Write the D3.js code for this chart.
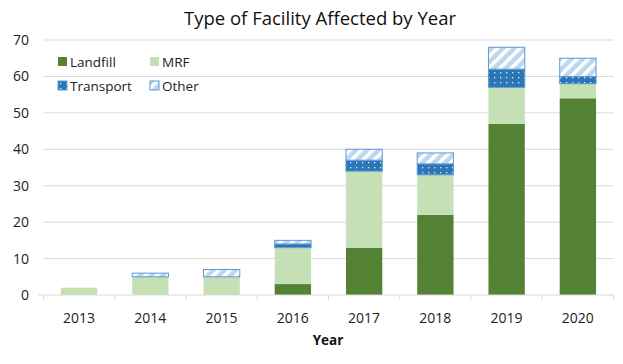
<!DOCTYPE html>
<html><head><meta charset="utf-8">
<script src="https://cdn.jsdelivr.net/npm/d3@7"></script>
<style>body{margin:0;background:#fff}svg{font-family:"Open Sans",Calibri,sans-serif}</style>
</head><body><svg id="c" width="623" height="364"></svg>
<script>
const years = ["2013","2014","2015","2016","2017","2018","2019","2020"];
const landfill = [0,0,0,3,13,22,47,54];
const mrf = [2,5,5,10,21,11,10,4];
const transport = [0,0,0,1,3,3,5,2];
const other = [0,1,2,1,3,3,6,5];
const seriesNames = ["Landfill","MRF","Transport","Other"];
const yTicks = [0,10,20,30,40,50,60,70];

const svg = d3.select("#c");
const defs = svg.append("defs");
const dots = defs.append("pattern").attr("id","dots").attr("patternUnits","userSpaceOnUse").attr("width",6).attr("height",5);
dots.append("rect").attr("width",6).attr("height",5).attr("fill","#2E75B6");
dots.append("rect").attr("x",2).attr("y",2).attr("width",1.3).attr("height",1.3).attr("fill","#DDEBF7");
const str = defs.append("pattern").attr("id","stripes").attr("patternUnits","userSpaceOnUse").attr("width",8).attr("height",8).attr("patternTransform","rotate(45)");
str.append("rect").attr("width",8).attr("height",8).attr("fill","#BDD7EE");
str.append("rect").attr("x",0).attr("width",3.5).attr("height",8).attr("fill","#fff");

const fills = {Landfill:"#548235",MRF:"#C5E0B4",Transport:"url(#dots)",Other:"url(#stripes)"};
const strokes = {Landfill:"none",MRF:"none",Transport:"#5B9BD5",Other:"#5B9BD5"};

const m = {l:43.5,r:613.5,t:40,b:295};
const x = d3.scaleBand().domain(years).range([m.l,m.r]).paddingInner(0.49).paddingOuter(0.245);
const y = d3.scaleLinear().domain([0,70]).range([m.b,m.t]);

// grid
svg.append("g").selectAll("line").data(yTicks.slice(1)).join("line")
 .attr("x1",m.l).attr("x2",m.r).attr("y1",d=>y(d)).attr("y2",d=>y(d))
 .attr("stroke","#D9D9D9").attr("stroke-width",1);

const data = years.map((yr,i)=>({year:yr,Landfill:landfill[i],MRF:mrf[i],Transport:transport[i],Other:other[i]}));
const stack = d3.stack().keys(seriesNames)(data);
svg.append("g").selectAll("g").data(stack).join("g")
 .each(function(s){
   d3.select(this).selectAll("rect").data(s.filter(d=>d[1]-d[0]>0)).join("rect")
    .attr("x",d=>x(d.data.year)).attr("width",x.bandwidth())
    .attr("y",d=>y(d[1])).attr("height",d=>y(d[0])-y(d[1]))
    .attr("fill",fills[s.key]).attr("stroke",strokes[s.key]).attr("stroke-width",1);
 });

// x axis
const xa = svg.append("g").attr("transform",`translate(0,${m.b})`);
xa.append("line").attr("x1",m.l).attr("x2",m.r).attr("stroke","#D9D9D9");
const step = x.step();
const bounds = d3.range(years.length+1).map(i=>m.l+i*step);
xa.selectAll("line.t").data(bounds).join("line").attr("class","t")
 .attr("x1",d=>d).attr("x2",d=>d).attr("y1",0).attr("y2",5).attr("stroke","#D9D9D9");
xa.selectAll("text").data(years).join("text")
 .attr("x",d=>x(d)+x.bandwidth()/2).attr("y",28).attr("text-anchor","middle")
 .attr("font-size",14).attr("fill","#222").text(d=>d);
// y axis tick at 0
svg.append("line").attr("x1",m.l-5).attr("x2",m.l).attr("y1",m.b).attr("y2",m.b).attr("stroke","#D9D9D9");
svg.append("g").selectAll("text").data(yTicks).join("text")
 .attr("x",29).attr("y",d=>y(d)+5).attr("text-anchor","end")
 .attr("font-size",14).attr("fill","#222").text(d=>d);

svg.append("text").attr("x",320).attr("y",25).attr("text-anchor","middle").attr("font-size",18.5).attr("fill","#111").text("Type of Facility Affected by Year");
svg.append("text").attr("x",328).attr("y",345).attr("text-anchor","middle").attr("font-size",13.5).attr("font-weight","bold").attr("fill","#111").text("Year");

// legend
const lg = [{k:"Landfill",x:58,y:62},{k:"MRF",x:150,y:62},{k:"Transport",x:58,y:86},{k:"Other",x:150,y:86}];
const L = svg.append("g").selectAll("g").data(lg).join("g").attr("transform",d=>`translate(${d.x},${d.y})`);
L.append("rect").attr("x",0).attr("y",-5).attr("width",9).attr("height",9)
 .attr("fill",d=>fills[d.k]).attr("stroke",d=>strokes[d.k]);
L.append("text").attr("x",12).attr("y",4.5).attr("font-size",13.5).attr("fill","#222").text(d=>d.k);
</script></body></html>
